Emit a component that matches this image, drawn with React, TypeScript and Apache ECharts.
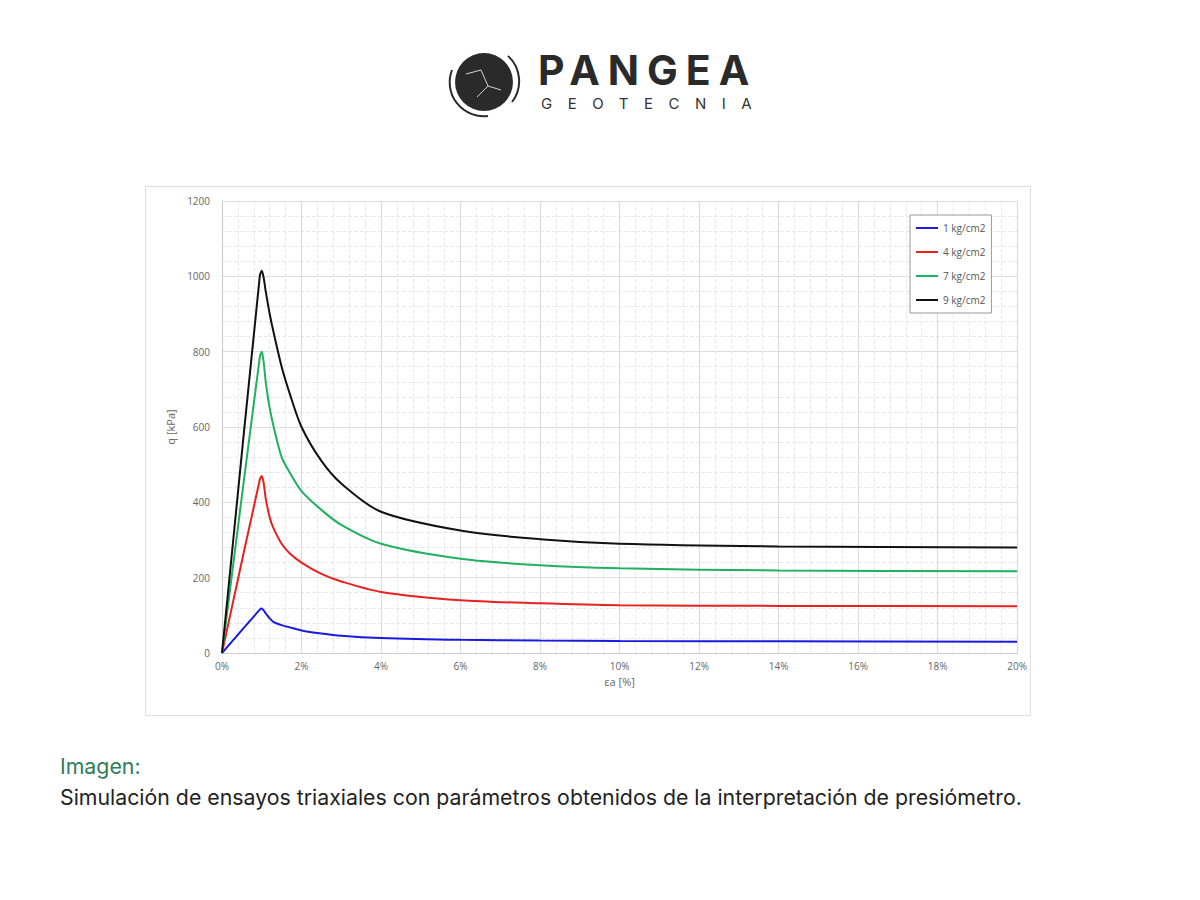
import * as echarts from "echarts";
import { useEffect, useRef } from "react";

const strain = [0, 0.95, 1.0, 1.05, 1.1, 1.2, 1.3, 1.5, 1.7, 2, 2.5, 3, 4, 6, 8, 10, 14, 20];
const q1 = [0, 115, 118, 113, 105, 92, 82, 74, 68, 60, 52, 46, 40, 35, 33, 32, 31, 30];
const q4 = [0, 460, 470, 450, 410, 360, 330, 290, 265, 240, 210, 190, 162, 140, 132, 127, 125, 124];
const q7 = [0, 785, 800, 770, 720, 650, 600, 520, 480, 430, 380, 340, 290, 250, 233, 225, 219, 217];
const q9 = [0, 1000, 1015, 995, 960, 900, 850, 760, 690, 600, 510, 450, 375, 325, 302, 290, 283, 280];
const seriesNames = ["1 kg/cm2", "4 kg/cm2", "7 kg/cm2", "9 kg/cm2"];
const seriesColors = ["#1a1ae0", "#e82020", "#1fb060", "#111111"];

const Chart = () => {
  const chartRef = useRef(null);

  useEffect(() => {
    const chart = echarts.init(chartRef.current, null, { renderer: "svg" });
    const all = [q1, q4, q7, q9];
    const gridLine = { lineStyle: { color: "#dcdcdc", width: 1.2 } };
    const minorLine = { lineStyle: { color: "#e8e8e8", type: "dashed" as const } };

    chart.setOption({
      animation: false,
      textStyle: { fontFamily: "Open Sans" },
      grid: { left: 76, top: 14, right: 9, bottom: 62 },
      legend: {
        orient: "vertical",
        left: 764,
        top: 28,
        itemWidth: 22,
        itemHeight: 2,
        itemGap: 14,
        padding: [8, 6, 8, 6],
        borderColor: "#999",
        borderWidth: 1,
        backgroundColor: "#fff",
        icon: "rect",
        textStyle: { fontSize: 10, color: "#555" },
        data: seriesNames,
      },
      xAxis: {
        type: "value",
        min: 0,
        max: 20,
        interval: 2,
        name: "εa [%]",
        nameLocation: "middle",
        nameGap: 22,
        nameTextStyle: { color: "#666", fontSize: 11 },
        axisLine: { lineStyle: { color: "#ccc" } },
        axisTick: { show: false },
        axisLabel: { color: "#666", fontSize: 10, formatter: "{value}%" },
        splitLine: gridLine,
        minorTick: { show: false, splitNumber: 5 },
        minorSplitLine: { show: true, ...minorLine },
      },
      yAxis: {
        type: "value",
        min: 0,
        max: 1200,
        interval: 200,
        name: "q [kPa]",
        nameLocation: "middle",
        nameGap: 42,
        nameTextStyle: { color: "#666", fontSize: 11 },
        axisLine: { show: true, lineStyle: { color: "#ccc" } },
        axisTick: { show: false },
        axisLabel: { color: "#666", fontSize: 10, margin: 12, formatter: (v: number) => String(v) },
        splitLine: gridLine,
        minorTick: { show: false, splitNumber: 5 },
        minorSplitLine: { show: true, ...minorLine },
      },
      series: all.map((vals, i) => ({
        name: seriesNames[i],
        type: "line",
        smooth: 0.3,
        showSymbol: false,
        color: seriesColors[i],
        lineStyle: { width: 2, color: seriesColors[i] },
        data: strain.map((x, j) => [x, vals[j]]),
      })),
    });

    return () => chart.dispose();
  }, []);

  return (
    <div
      ref={chartRef}
      style={{
        position: "absolute",
        left: 145,
        top: 186,
        width: 884,
        height: 528,
        border: "1px solid #dedede",
        background: "#fff",
      }}
    />
  );
};

const App = () => (
  <div
    style={{
      position: "fixed",
      left: 0,
      top: 0,
      width: 1200,
      height: 900,
      background: "#fff",
      fontFamily: "Inter, sans-serif",
    }}
  >
    <svg style={{ position: "absolute", left: 446, top: 44 }} width={80} height={76}>
      <circle cx={38} cy={38} r={29} fill="#2a2a2a" />
      <path d="M6 26 A34 34 0 0 0 42 72" stroke="#2a2a2a" strokeWidth={2} fill="none" />
      <path d="M62 12 A34 34 0 0 1 66 58" stroke="#2a2a2a" strokeWidth={2} fill="none" />
      <path d="M20 30 L35 26 L42 42 L31 53 M42 42 L55 46" stroke="#fff" strokeWidth={0.8} fill="none" />
    </svg>
    <div
      style={{
        position: "absolute",
        left: 538,
        top: 48,
        fontSize: 41,
        fontWeight: 700,
        letterSpacing: 8,
        color: "#2a2a2a",
        lineHeight: "44px",
      }}
    >
      PANGEA
    </div>
    <div
      style={{
        position: "absolute",
        left: 541,
        top: 95,
        fontSize: 15,
        letterSpacing: 15.5,
        color: "#333",
        lineHeight: "18px",
      }}
    >
      GEOTECNIA
    </div>
    <Chart />
    <div style={{ position: "absolute", left: 60, top: 753, fontSize: 21.3, color: "#2f7d58" }}>
      Imagen:
    </div>
    <div style={{ position: "absolute", left: 60, top: 784, fontSize: 21.3, color: "#222" }}>
      Simulación de ensayos triaxiales con parámetros obtenidos de la interpretación de presiómetro.
    </div>
  </div>
);

export default App;
